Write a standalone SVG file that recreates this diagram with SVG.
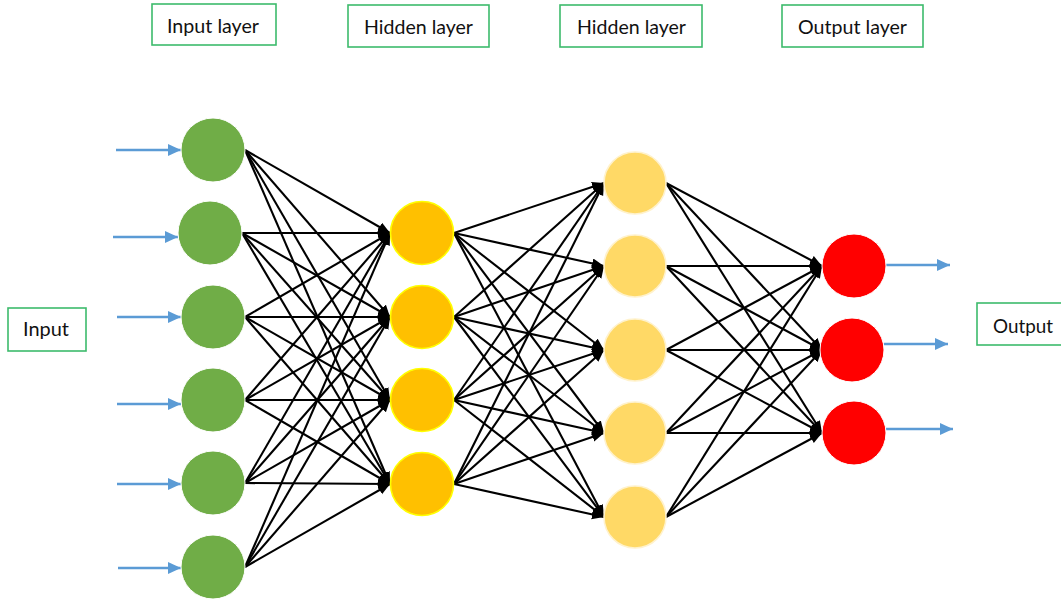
<svg xmlns="http://www.w3.org/2000/svg" width="1061" height="603" viewBox="0 0 1061 603">
  <style>
    .box { fill: #ffffff; stroke: #3dbb6c; stroke-width: 1.6; }
    .lbl { font-family: Lato, "Liberation Sans", sans-serif; font-size: 19px; fill: #111111; text-anchor: middle; }
    .edge { stroke: #000000; stroke-width: 2.1; fill: none; marker-end: url(#blk); }
    .io { stroke: #5b9bd5; stroke-width: 2.6; fill: none; marker-end: url(#blu); }
    .in { fill: #70ad47; stroke: #ffffff; stroke-width: 1; }
    .h1 { fill: #ffc000; stroke: #ffff00; stroke-width: 1.6; }
    .h2 { fill: #ffd966; stroke: #fff2cc; stroke-width: 1.6; }
    .out { fill: #ff0000; stroke: #ffffff; stroke-width: 1; }
  </style>
  <defs>
    <marker id="blk" markerUnits="userSpaceOnUse" markerWidth="13" markerHeight="11" refX="12" refY="5" orient="auto">
      <path d="M0,0 L12,5 L0,10 z" fill="#000000"/>
    </marker>
    <marker id="blu" markerUnits="userSpaceOnUse" markerWidth="14" markerHeight="13" refX="13" refY="6" orient="auto">
      <path d="M0,0 L13,6 L0,12 z" fill="#5b9bd5"/>
    </marker>
  </defs>

  <rect width="1061" height="603" fill="#ffffff"/>

  <!-- layer titles -->
  <g id="title-input">
    <rect class="box" x="152" y="4" width="124" height="41"/>
    <text class="lbl" x="213" y="33" textLength="92" lengthAdjust="spacingAndGlyphs">Input layer</text>
  </g>
  <g id="title-hidden1">
    <rect class="box" x="348" y="5" width="141" height="42"/>
    <text class="lbl" x="418.5" y="34" textLength="109" lengthAdjust="spacingAndGlyphs">Hidden layer</text>
  </g>
  <g id="title-hidden2">
    <rect class="box" x="560" y="5" width="142" height="42"/>
    <text class="lbl" x="631.5" y="34" textLength="109" lengthAdjust="spacingAndGlyphs">Hidden layer</text>
  </g>
  <g id="title-output">
    <rect class="box" x="782" y="5" width="141" height="42"/>
    <text class="lbl" x="852.5" y="34" textLength="109" lengthAdjust="spacingAndGlyphs">Output layer</text>
  </g>
  <g id="label-input">
    <rect class="box" x="8" y="308" width="78" height="43"/>
    <text class="lbl" x="46" y="336" textLength="46" lengthAdjust="spacingAndGlyphs">Input</text>
  </g>
  <g id="label-output">
    <rect class="box" x="977" y="303" width="95" height="42"/>
    <text class="lbl" x="1023" y="333" textLength="60" lengthAdjust="spacingAndGlyphs">Output</text>
  </g>

  <!-- connectors -->
  <g id="connectors">
    <!-- incoming signals -->
    <line class="io" x1="116" y1="150" x2="181" y2="150"/>
    <line class="io" x1="113" y1="237" x2="178" y2="237"/>
    <line class="io" x1="117" y1="317" x2="181" y2="317"/>
    <line class="io" x1="117" y1="404" x2="181" y2="404"/>
    <line class="io" x1="117" y1="484" x2="181" y2="484"/>
    <line class="io" x1="118" y1="568" x2="181" y2="568"/>
    <!-- outgoing signals -->
    <line class="io" x1="886" y1="265" x2="950" y2="265"/>
    <line class="io" x1="884" y1="344" x2="948" y2="344"/>
    <line class="io" x1="886" y1="429" x2="953" y2="429"/>

    <!-- input -> hidden 1 -->
    <line class="edge" x1="245" y1="150" x2="390" y2="233"/>
    <line class="edge" x1="245" y1="150" x2="390" y2="317"/>
    <line class="edge" x1="245" y1="150" x2="390" y2="400"/>
    <line class="edge" x1="245" y1="150" x2="390" y2="484"/>
    <line class="edge" x1="242" y1="233" x2="390" y2="233"/>
    <line class="edge" x1="242" y1="233" x2="390" y2="317"/>
    <line class="edge" x1="242" y1="233" x2="390" y2="400"/>
    <line class="edge" x1="242" y1="233" x2="390" y2="484"/>
    <line class="edge" x1="245" y1="317" x2="390" y2="233"/>
    <line class="edge" x1="245" y1="317" x2="390" y2="317"/>
    <line class="edge" x1="245" y1="317" x2="390" y2="400"/>
    <line class="edge" x1="245" y1="317" x2="390" y2="484"/>
    <line class="edge" x1="245" y1="400" x2="390" y2="233"/>
    <line class="edge" x1="245" y1="400" x2="390" y2="317"/>
    <line class="edge" x1="245" y1="400" x2="390" y2="400"/>
    <line class="edge" x1="245" y1="400" x2="390" y2="484"/>
    <line class="edge" x1="245" y1="483" x2="390" y2="233"/>
    <line class="edge" x1="245" y1="483" x2="390" y2="317"/>
    <line class="edge" x1="245" y1="483" x2="390" y2="400"/>
    <line class="edge" x1="245" y1="483" x2="390" y2="484"/>
    <line class="edge" x1="245" y1="567" x2="390" y2="233"/>
    <line class="edge" x1="245" y1="567" x2="390" y2="317"/>
    <line class="edge" x1="245" y1="567" x2="390" y2="400"/>
    <line class="edge" x1="245" y1="567" x2="390" y2="484"/>

    <!-- hidden 1 -> hidden 2 -->
    <line class="edge" x1="454" y1="233" x2="604" y2="183"/>
    <line class="edge" x1="454" y1="233" x2="604" y2="266"/>
    <line class="edge" x1="454" y1="233" x2="604" y2="350"/>
    <line class="edge" x1="454" y1="233" x2="604" y2="433"/>
    <line class="edge" x1="454" y1="233" x2="604" y2="517"/>
    <line class="edge" x1="454" y1="317" x2="604" y2="183"/>
    <line class="edge" x1="454" y1="317" x2="604" y2="266"/>
    <line class="edge" x1="454" y1="317" x2="604" y2="350"/>
    <line class="edge" x1="454" y1="317" x2="604" y2="433"/>
    <line class="edge" x1="454" y1="317" x2="604" y2="517"/>
    <line class="edge" x1="454" y1="400" x2="604" y2="183"/>
    <line class="edge" x1="454" y1="400" x2="604" y2="266"/>
    <line class="edge" x1="454" y1="400" x2="604" y2="350"/>
    <line class="edge" x1="454" y1="400" x2="604" y2="433"/>
    <line class="edge" x1="454" y1="400" x2="604" y2="517"/>
    <line class="edge" x1="454" y1="484" x2="604" y2="183"/>
    <line class="edge" x1="454" y1="484" x2="604" y2="266"/>
    <line class="edge" x1="454" y1="484" x2="604" y2="350"/>
    <line class="edge" x1="454" y1="484" x2="604" y2="433"/>
    <line class="edge" x1="454" y1="484" x2="604" y2="517"/>

    <!-- hidden 2 -> output -->
    <line class="edge" x1="666" y1="183" x2="822" y2="266"/>
    <line class="edge" x1="666" y1="183" x2="822" y2="350"/>
    <line class="edge" x1="666" y1="183" x2="822" y2="433"/>
    <line class="edge" x1="666" y1="266" x2="822" y2="266"/>
    <line class="edge" x1="666" y1="266" x2="822" y2="350"/>
    <line class="edge" x1="666" y1="266" x2="822" y2="433"/>
    <line class="edge" x1="666" y1="350" x2="822" y2="266"/>
    <line class="edge" x1="666" y1="350" x2="822" y2="350"/>
    <line class="edge" x1="666" y1="350" x2="822" y2="433"/>
    <line class="edge" x1="666" y1="433" x2="822" y2="266"/>
    <line class="edge" x1="666" y1="433" x2="822" y2="350"/>
    <line class="edge" x1="666" y1="433" x2="822" y2="433"/>
    <line class="edge" x1="666" y1="517" x2="822" y2="266"/>
    <line class="edge" x1="666" y1="517" x2="822" y2="350"/>
    <line class="edge" x1="666" y1="517" x2="822" y2="433"/>
  </g>

  <!-- input layer nodes -->
  <g id="in1"><circle class="in" cx="213" cy="150" r="32"/></g>
  <g id="in2"><circle class="in" cx="210" cy="233" r="32"/></g>
  <g id="in3"><circle class="in" cx="213" cy="317" r="32"/></g>
  <g id="in4"><circle class="in" cx="213" cy="400" r="32"/></g>
  <g id="in5"><circle class="in" cx="213" cy="483" r="32"/></g>
  <g id="in6"><circle class="in" cx="213" cy="567" r="32"/></g>

  <!-- first hidden layer -->
  <g id="h1a"><circle class="h1" cx="422" cy="233" r="31.5"/></g>
  <g id="h1b"><circle class="h1" cx="422" cy="317" r="31.5"/></g>
  <g id="h1c"><circle class="h1" cx="422" cy="400" r="31.5"/></g>
  <g id="h1d"><circle class="h1" cx="422" cy="484" r="31.5"/></g>

  <!-- second hidden layer -->
  <g id="h2a"><circle class="h2" cx="635" cy="183" r="31"/></g>
  <g id="h2b"><circle class="h2" cx="635" cy="266" r="31"/></g>
  <g id="h2c"><circle class="h2" cx="635" cy="350" r="31"/></g>
  <g id="h2d"><circle class="h2" cx="635" cy="433" r="31"/></g>
  <g id="h2e"><circle class="h2" cx="635" cy="517" r="31"/></g>

  <!-- output layer -->
  <g id="out1"><circle class="out" cx="854" cy="266" r="32"/></g>
  <g id="out2"><circle class="out" cx="852" cy="350" r="32"/></g>
  <g id="out3"><circle class="out" cx="854" cy="433" r="32"/></g>
</svg>
